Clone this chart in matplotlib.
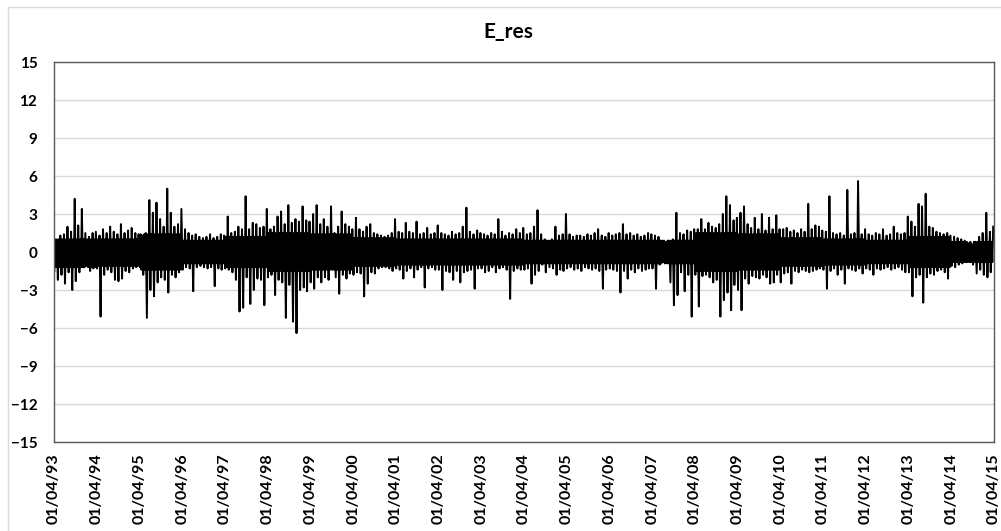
import numpy as np
import pandas as pd
import matplotlib
matplotlib.use("Agg")
import matplotlib.pyplot as plt
import matplotlib.dates as mdates
from matplotlib.patches import Rectangle

plt.rcParams["font.family"] = ["Lato", "DejaVu Sans"]

# monthly upper / lower excursion of the residual series, Apr 1993 .. Mar 2015
# one row per year (Apr..Mar)
highs = [
    1.0, 1.3, 1.4, 2.0, 1.6, 4.2, 2.1, 3.4, 1.5, 1.2, 1.5, 1.6,   # 93/94
    1.3, 1.8, 1.5, 2.0, 1.6, 1.4, 2.2, 1.5, 1.7, 1.9, 1.5, 1.4,   # 94/95
    1.3, 1.5, 4.1, 3.1, 3.9, 2.6, 2.0, 5.0, 3.1, 2.0, 2.2, 3.4,   # 95/96
    1.8, 1.5, 1.3, 1.4, 1.2, 1.1, 1.2, 1.4, 1.1, 1.2, 1.4, 1.3,   # 96/97
    2.8, 1.5, 1.6, 2.0, 1.8, 4.4, 1.8, 2.3, 2.2, 1.9, 2.0, 3.4,   # 97/98
    1.8, 2.0, 2.8, 3.2, 2.2, 3.7, 2.3, 2.6, 2.4, 3.6, 2.5, 2.4,   # 98/99
    3.0, 3.7, 2.2, 2.6, 2.0, 3.6, 1.5, 2.0, 3.2, 2.2, 2.0, 1.8,   # 99/00
    2.7, 1.8, 1.6, 2.0, 2.2, 1.5, 1.4, 1.3, 1.2, 1.3, 1.5, 2.6,   # 00/01
    1.6, 1.5, 2.3, 1.6, 1.5, 2.4, 1.4, 1.5, 1.9, 1.4, 1.5, 2.1,   # 01/02
    1.5, 1.4, 1.3, 1.6, 1.4, 1.5, 2.0, 3.5, 1.6, 1.4, 1.7, 1.5,   # 02/03
    1.4, 1.3, 1.5, 1.4, 2.6, 1.6, 1.3, 1.5, 1.4, 1.8, 1.5, 1.9,   # 03/04
    1.4, 1.5, 2.0, 3.3, 1.4, 1.0, 0.9, 1.0, 2.0, 1.3, 1.4, 3.0,   # 04/05
    1.4, 1.2, 1.3, 1.3, 1.2, 1.4, 1.3, 1.5, 1.8, 1.3, 1.2, 1.5,   # 05/06
    1.3, 1.4, 1.5, 2.2, 1.4, 1.5, 1.3, 1.4, 1.2, 1.3, 1.5, 1.4,   # 06/07
    1.3, 1.2, 0.9, 0.8, 0.9, 1.0, 3.1, 1.5, 1.4, 1.7, 1.6, 1.8,   # 07/08
    1.8, 2.6, 1.8, 2.3, 2.0, 1.9, 2.2, 3.0, 4.4, 3.7, 2.5, 2.7,   # 08/09
    3.1, 3.6, 2.2, 1.9, 2.7, 1.8, 3.0, 1.7, 2.7, 1.8, 2.9, 1.8,   # 09/10
    1.8, 1.9, 1.6, 1.7, 1.5, 1.8, 1.6, 3.8, 1.8, 2.1, 2.0, 1.7,   # 10/11
    1.6, 4.4, 1.5, 1.4, 1.5, 1.3, 4.9, 1.4, 1.5, 5.6, 1.4, 1.8,   # 11/12
    1.4, 1.3, 1.5, 1.4, 1.8, 1.3, 1.4, 2.0, 1.5, 1.4, 1.5, 2.8,   # 12/13
    2.4, 2.0, 3.8, 3.6, 4.6, 2.0, 1.9, 1.6, 1.5, 1.4, 1.5, 1.3,   # 13/14
    1.2, 1.1, 1.0, 0.9, 0.7, 0.6, 0.8, 1.2, 1.5, 3.1, 1.6, 2.0,   # 14/15
]
lows = [
    -1.5, -2.2, -1.8, -2.5, -1.6, -3.0, -2.3, -1.6, -1.2, -1.1, -1.5, -1.3,
    -1.3, -5.1, -1.8, -1.4, -1.6, -2.2, -2.3, -2.1, -1.5, -1.6, -1.3, -1.2,
    -1.2, -1.8, -5.2, -3.0, -3.5, -2.4, -2.0, -2.2, -3.2, -1.8, -2.0, -1.6,
    -1.4, -1.2, -1.3, -3.1, -1.2, -1.1, -1.2, -1.3, -1.2, -2.7, -1.3, -1.4,
    -1.3, -1.4, -1.6, -2.2, -4.7, -4.4, -2.0, -4.1, -3.0, -2.1, -2.2, -4.2,
    -2.0, -1.8, -3.4, -2.2, -2.4, -5.2, -2.6, -5.5, -6.4, -3.0, -2.8, -3.1,
    -2.4, -2.9, -2.0, -2.4, -2.0, -2.2, -1.4, -2.0, -3.3, -1.8, -2.1, -1.7,
    -1.8, -1.6, -1.7, -3.5, -2.5, -1.6, -1.7, -1.3, -1.2, -1.2, -1.3, -1.5,
    -1.3, -1.4, -2.1, -1.5, -1.3, -2.0, -1.4, -1.2, -2.8, -1.3, -1.2, -1.4,
    -1.4, -3.0, -1.5, -1.6, -2.2, -1.5, -2.4, -1.6, -1.5, -1.4, -2.9, -1.3,
    -1.3, -1.6, -1.5, -1.2, -1.6, -1.3, -1.2, -1.4, -3.7, -1.5, -1.3, -1.4,
    -1.4, -1.3, -2.5, -1.8, -1.5, -1.0, -1.6, -1.2, -1.3, -1.8, -1.4, -1.5,
    -1.3, -1.2, -1.4, -1.3, -1.5, -1.2, -1.3, -1.4, -1.3, -1.5, -2.9, -1.4,
    -1.3, -1.4, -1.5, -3.2, -1.5, -2.1, -1.4, -1.6, -1.3, -1.5, -1.4, -1.3,
    -1.3, -2.9, -1.0, -0.8, -0.9, -2.4, -4.2, -3.4, -1.6, -3.1, -1.8, -5.1,
    -1.8, -4.3, -1.9, -1.8, -2.0, -2.4, -2.2, -5.1, -3.8, -3.2, -4.6, -2.6,
    -3.0, -4.6, -2.1, -2.5, -1.9, -2.0, -2.1, -1.8, -2.0, -2.5, -2.4, -1.8,
    -2.4, -1.7, -1.6, -2.5, -1.5, -1.6, -1.4, -1.5, -1.6, -1.5, -1.4, -1.3,
    -1.4, -2.9, -1.5, -1.3, -1.8, -1.4, -2.5, -1.3, -1.4, -1.5, -1.3, -1.7,
    -1.3, -1.4, -1.8, -1.3, -1.4, -1.3, -1.2, -1.4, -1.3, -1.2, -1.4, -1.6,
    -1.6, -3.5, -2.0, -1.8, -4.0, -2.0, -1.7, -1.8, -1.5, -1.4, -1.6, -2.1,
    -1.1, -1.2, -1.0, -0.9, -0.8, -0.8, -1.0, -1.7, -1.4, -1.8, -2.0, -1.6,
]
# typical (dense) swing of the series for each year, Apr..Mar
core_high = [1.0, 1.0, 1.4, 0.9, 1.2, 1.5, 1.4, 1.1, 1.0, 1.0, 1.0,
             0.9, 0.9, 0.9, 0.9, 1.5, 1.4, 1.1, 1.0, 0.9, 1.2, 0.8]
core_low = [-1.2, -1.1, -1.4, -0.9, -1.2, -1.5, -1.4, -1.1, -1.0, -1.0, -1.0,
            -0.9, -0.9, -0.9, -0.9, -1.5, -1.4, -1.1, -1.0, -0.9, -1.2, -0.8]

start, end = "1993-04-01", "2015-04-01"
y_ticks = list(range(-15, 16, 3))

n = len(highs)
months = pd.date_range(start, periods=n, freq="MS")
year_idx = np.arange(n) // 12
dates = np.empty(4 * n, dtype="datetime64[ns]")
vals = np.empty(4 * n)
for k, day in enumerate([3, 10, 17, 24]):
    dates[k::4] = (months + pd.Timedelta(days=day)).values
vals[0::4] = lows
vals[1::4] = np.array(core_high)[year_idx]
vals[2::4] = np.array(core_low)[year_idx]
vals[3::4] = highs

fig = plt.figure(figsize=(10.01, 5.31), dpi=100)
fig.patches.append(Rectangle((8 / 1001, -0.01), 1.0, 1 - 7 / 531 + 0.01,
                             transform=fig.transFigure, fill=False,
                             edgecolor="#d9d9d9", lw=1))
ax = fig.add_axes([54 / 1001, 1 - 442 / 531, 940 / 1001, 380 / 531])

ax.plot(dates, vals, color="black", lw=1.4)

ax.set_ylim(-15, 15)
ax.set_yticks(y_ticks)
ax.set_xlim(pd.Timestamp(start), pd.Timestamp(end))
ax.xaxis.set_major_locator(mdates.MonthLocator(bymonth=4, bymonthday=1))
ax.xaxis.set_major_formatter(mdates.DateFormatter("%d/%m/%y"))
ax.grid(axis="y", color="#d9d9d9", lw=1)
ax.set_axisbelow(True)
for s in ax.spines.values():
    s.set_color("#595959")
    s.set_linewidth(1)
ax.tick_params(axis="both", length=0, colors="black")
ax.tick_params(axis="y", pad=12, labelsize=11)
ax.tick_params(axis="x", pad=8, labelsize=11.5)
for lab in ax.get_xticklabels():
    lab.set_rotation(90)
    lab.set_fontweight("bold")
for lab in ax.get_yticklabels():
    lab.set_fontweight("bold")

fig.text(0.508, 1 - 32 / 531, "E_res", ha="center", va="center",
         fontsize=15, fontweight="bold")

fig.savefig("out.png", dpi=100)
